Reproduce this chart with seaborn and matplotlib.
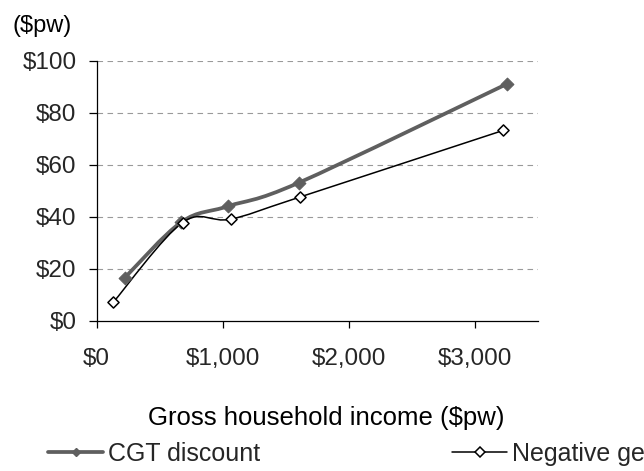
import numpy as np
import pandas as pd
import matplotlib
matplotlib.use("Agg")
import matplotlib.pyplot as plt
import seaborn as sns
from matplotlib.path import Path
from matplotlib.patches import PathPatch
from matplotlib.lines import Line2D

# ---- data ----
cgt_income = [224, 672, 1043, 1601, 3250]
cgt_value = [16.5, 37.9, 44.0, 53.0, 91.0]
ng_income = [132, 681, 1062, 1616, 3225]
ng_value = [7.0, 37.7, 39.0, 47.6, 73.2]
series_names = ["CGT discount", "Negative gearing"]
x_ticks = [0, 1000, 2000, 3000]
x_ticklabels = ["$0", "$1,000", "$2,000", "$3,000"]
y_ticks = [0, 20, 40, 60, 80, 100]
y_ticklabels = ["$0", "$20", "$40", "$60", "$80", "$100"]

sns.set_theme(style="white")
plt.rcParams["font.family"] = ["Liberation Sans", "DejaVu Sans"]

fig = plt.figure(figsize=(6.44, 4.71), dpi=100)
ax = fig.add_axes([0.150, 0.3195, 0.6856, 0.5516])

cgt_color = "#5f5f5f"


def smooth_path(xs, ys):
    # Excel-style smoothed line: cubic Bezier segments through the points
    P = np.column_stack([xs, ys]).astype(float)
    n = len(P)
    verts = [P[0]]
    codes = [Path.MOVETO]
    for i in range(n - 1):
        p0 = P[i - 1] if i > 0 else P[i]
        p1 = P[i]
        p2 = P[i + 1]
        p3 = P[i + 2] if i + 2 < n else P[i + 1]
        c1 = p1 + (p2 - p0) / 6.0
        c2 = p2 - (p3 - p1) / 6.0
        verts += [c1, c2, p2]
        codes += [Path.CURVE4] * 3
    return Path(verts, codes)


# gridlines
for yv in y_ticks[1:]:
    ax.axhline(yv, color="#9a9a9a", lw=0.8, ls=(0, (5, 4)), zorder=0.5)

# smoothed lines
ax.add_patch(PathPatch(smooth_path(cgt_income, cgt_value), facecolor="none",
                       edgecolor=cgt_color, lw=2.7, zorder=2, capstyle="round"))
ax.add_patch(PathPatch(smooth_path(ng_income, ng_value), facecolor="none",
                       edgecolor="black", lw=1.1, zorder=3))

df_cgt = pd.DataFrame({"income": cgt_income, "value": cgt_value})
df_ng = pd.DataFrame({"income": ng_income, "value": ng_value})
sns.scatterplot(data=df_cgt, x="income", y="value", marker="D", s=42,
                color=cgt_color, edgecolor=cgt_color, linewidth=0.8, ax=ax, zorder=4)
sns.scatterplot(data=df_ng, x="income", y="value", marker="D", s=32,
                color="white", edgecolor="black", linewidth=1.1, ax=ax, zorder=5)

ax.set_xlim(0, 3500)
ax.set_ylim(0, 100)
ax.set_xticks(x_ticks)
ax.set_xticklabels(x_ticklabels)
ax.set_yticks(y_ticks)
ax.set_yticklabels(y_ticklabels)

for s in ["top", "right"]:
    ax.spines[s].set_visible(False)
for s in ["left", "bottom"]:
    ax.spines[s].set_color("black")
    ax.spines[s].set_linewidth(0.9)

ax.tick_params(axis="x", direction="out", length=5, width=0.9, color="black",
               pad=15, labelsize=17.5, bottom=True)
ax.tick_params(axis="y", direction="out", length=5.5, width=0.9, color="black",
               pad=9, labelsize=17.5, left=True)

ax.set_xlabel("Gross household income ($pw)", fontsize=18.5, color="black")
ax.set_ylabel("")
ax.xaxis.set_label_coords(0.52, -0.33)

fig.text(12 / 644, 1 - 26 / 471, "($pw)", fontsize=17, ha="left", va="center",
         color="black")

# legend (two entries, far apart; second one runs past the figure edge as in the reference)
h_cgt = Line2D([], [], color=cgt_color, lw=2.7, marker="D", markersize=4.5,
               markerfacecolor=cgt_color, markeredgecolor=cgt_color)
h_ng = Line2D([], [], color="black", lw=1.1, marker="D", markersize=5,
              markerfacecolor="white", markeredgecolor="black", markeredgewidth=1.1)
leg_y = 1 - 454 / 471
fig.legend([h_cgt], [series_names[0]], loc="center left",
           bbox_to_anchor=(48 / 644, leg_y), frameon=False, fontsize=18,
           handlelength=2.2, handletextpad=0.2, borderpad=0, borderaxespad=0)
fig.legend([h_ng], [series_names[1]], loc="center left",
           bbox_to_anchor=(452 / 644, leg_y), frameon=False, fontsize=18,
           handlelength=2.2, handletextpad=0.2, borderpad=0, borderaxespad=0)

fig.savefig("out.png", dpi=100)
